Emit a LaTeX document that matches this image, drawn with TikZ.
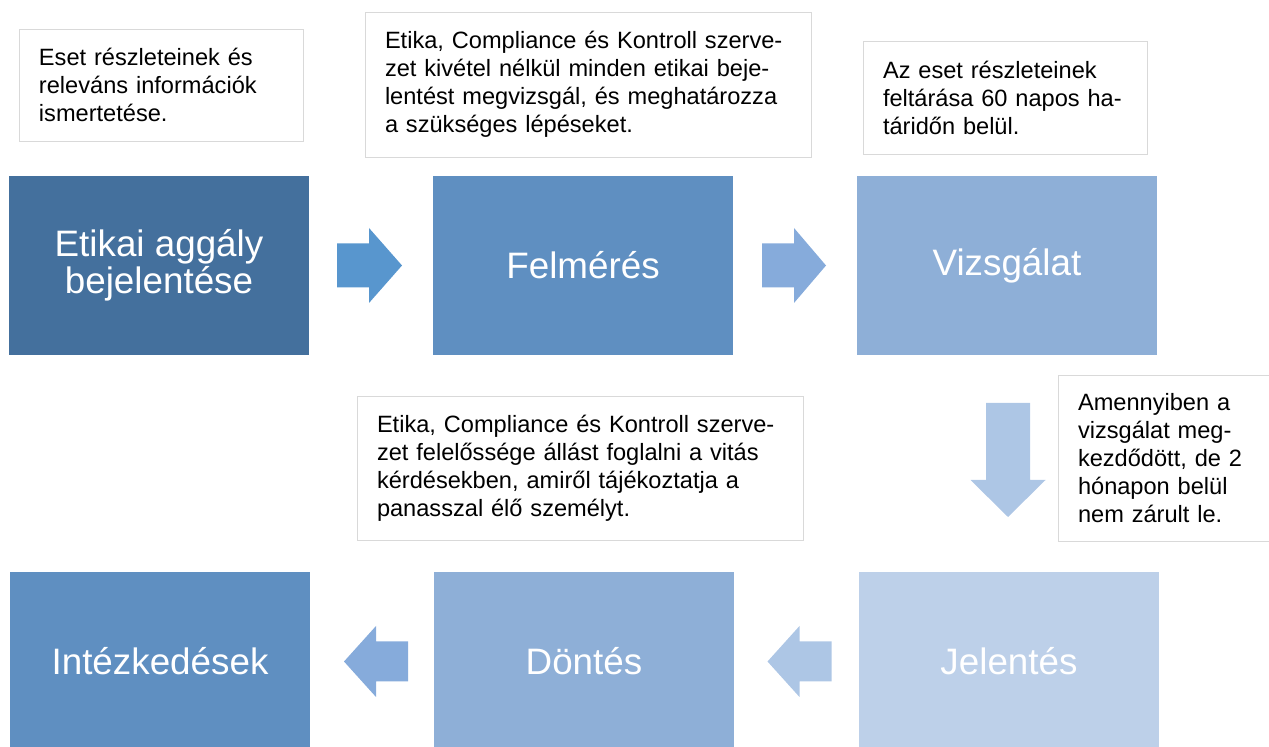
\documentclass[tikz,border=0pt]{standalone}
\usepackage{fontspec}
\setmainfont{Liberation Sans}
\definecolor{stageA}{HTML}{44709D}
\definecolor{stageB}{HTML}{5F8FC1}
\definecolor{stageC}{HTML}{8EAFD7}
\definecolor{stageD}{HTML}{BDD0E9}
\definecolor{arrowA}{HTML}{5896CE}
\definecolor{arrowB}{HTML}{86ABDB}
\definecolor{arrowC}{HTML}{ADC6E5}
\definecolor{noteline}{HTML}{D9D9D9}
\begin{document}
\begin{tikzpicture}[x=0.5pt, y=-0.5pt,
    stage/.style = {fill=#1, minimum width=150pt, minimum height=89.5pt,
                inner sep=0pt, text=white, align=center,
                font=\fontsize{18.4}{18.5}\selectfont},
    note/.style = {draw=noteline, fill=white, align=left,
                inner xsep=10pt, inner ysep=0pt,
                font=\fontsize{11.8}{14}\selectfont}
                    ]
        \clip (0,0) rectangle (1269,747);
        % stages
        \node[stage=stageA] (report) at (159,265.5) {Etikai aggály\\bejelentése};
        \node[stage=stageB] (assess) at (583,265.5) {Felmérés};
        \node[stage=stageC] (probe) at (1007,265.5) {Vizsgálat};
        \node[stage=stageD] (publish) at (1009,661.5) {Jelentés};
        \node[stage=stageC] (decide) at (584,661.5) {Döntés};
        \node[stage=stageB] (act) at (160,661.5) {Intézkedések};
        % notes
        \node[note, text width=122pt, minimum height=56pt] (noteA) at (161,85)
            {Eset részleteinek és\\releváns információk\\ismertetése.};
        \node[note, text width=203pt, minimum height=72.5pt] (noteB) at (588,84.5)
            {Etika, Compliance és Kontroll szerve-\\zet kivétel nélkül minden etikai beje-\\lentést megvizsgál, és meghatározza\\a szükséges lépéseket.};
        \node[note, text width=122pt, minimum height=56.5pt] (noteC) at (1005,97.5)
            {Az eset részleteinek\\feltárása 60 napos ha-\\táridőn belül.};
        \node[note, text width=87pt, minimum height=83pt] (noteD) at (1165,458)
            {Amennyiben a\\vizsgálat meg-\\kezdődött, de 2\\hónapon belül\\nem zárult le.};
        \node[note, text width=203pt, minimum height=72pt] (noteE) at (580,468)
            {Etika, Compliance és Kontroll szerve-\\zet felelőssége állást foglalni a vitás\\kérdésekben, amiről tájékoztatja a\\panasszal élő személyt.};
        % block arrows between the stages
        \foreach \a/\b/\r/\c/\L/\h/\w/\t/\o in {report/assess/0/arrowA/65/33/37.5/22/-1.5,
                assess/probe/0/arrowB/64/32/37.5/22/-1,
                probe/publish/-90/arrowC/114/37/37.5/22/-3.5,
                publish/decide/180/arrowC/64/32/35.5/20/-3,
                decide/act/180/arrowB/64/32/35.5/20/-4} {
            \path (\a) -- (\b) coordinate[midway] (\a-\b);
            \fill[\c, shift={(\a-\b)}, rotate=\r]
                (\o-\L/2,-\t) -- (\o+\L/2-\h,-\t) -- (\o+\L/2-\h,-\w) -- (\o+\L/2,0)
                -- (\o+\L/2-\h,\w) -- (\o+\L/2-\h,\t) -- (\o-\L/2,\t) -- cycle;
        }
    \end{tikzpicture}
\end{document}
